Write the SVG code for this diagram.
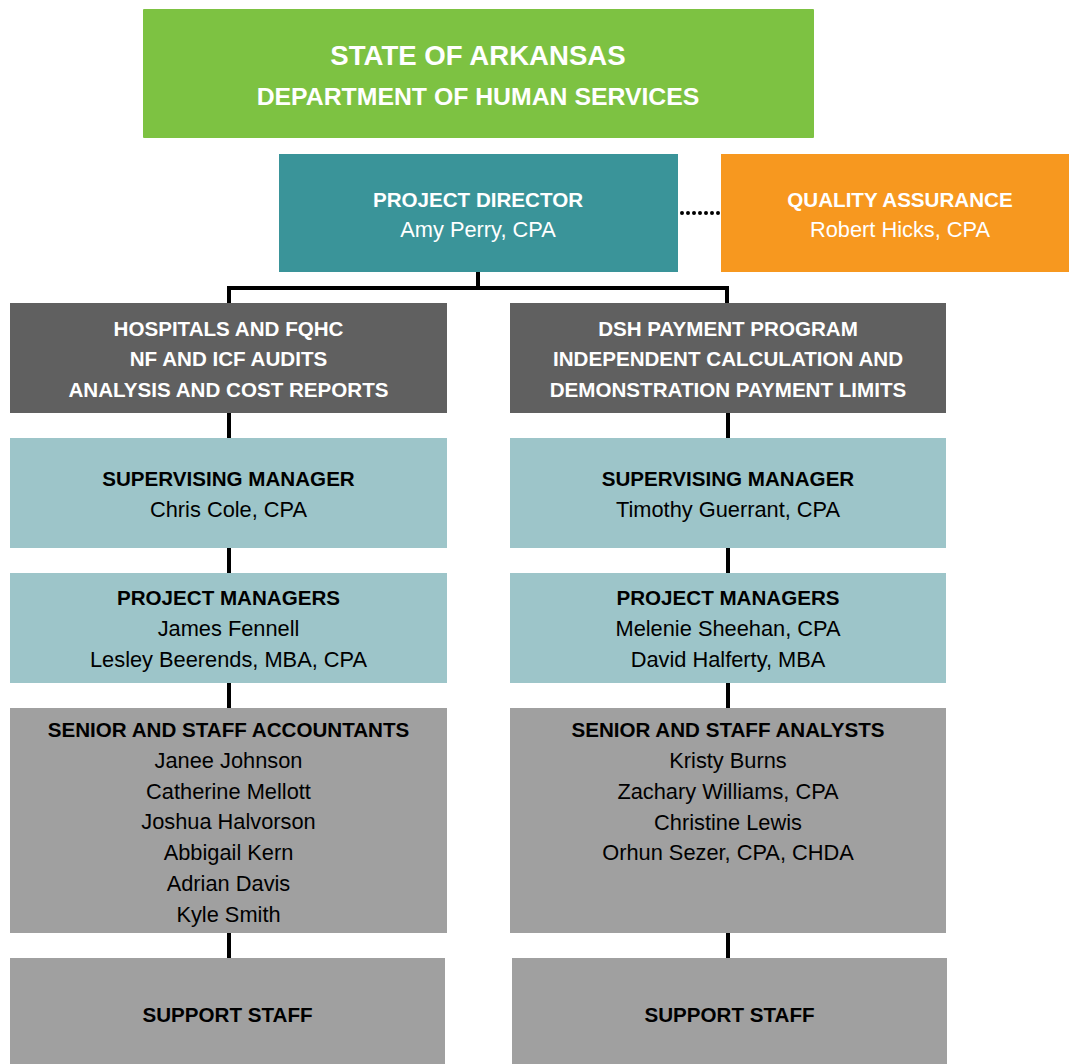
<svg xmlns="http://www.w3.org/2000/svg" width="1069" height="1064" viewBox="0 0 1069 1064">
<style>
text{font-family:"Liberation Sans",Arial,sans-serif;font-size:21.8px;text-anchor:middle}
.b{font-weight:bold;font-size:20.6px}
.w{fill:#ffffff}
.k{fill:#000000}
.ln{stroke:#000;stroke-width:4;fill:none}
.dot{stroke:#000;stroke-width:4;stroke-linecap:round;stroke-dasharray:0 6;fill:none}
</style>
<rect width="1069" height="1064" fill="#ffffff"/>
<g id="connectors">
<path class="ln" d="M478 272V288M229 286V303M727 286V303M227 288H729"/>
<path class="dot" d="M682 213H719"/>
<path class="ln" d="M229 413V438M229 548V573M229 683V708M229 933V958"/>
<path class="ln" d="M728 413V438M728 548V573M728 683V708M728 933V958"/>
</g>
<g id="state">
<rect x="143" y="9" width="671" height="129" fill="#7dc242" rx="1"/>
<text class="b w" x="478" y="65" style="font-size:27.6px">STATE OF ARKANSAS</text>
<text class="b w" x="478" y="105" style="font-size:24.8px">DEPARTMENT OF HUMAN SERVICES</text>
</g>
<g id="director">
<rect x="279" y="154" width="399" height="118" fill="#3a9499"/>
<text class="b w" x="478" y="207">PROJECT DIRECTOR</text>
<text class="w" x="478" y="237">Amy Perry, CPA</text>
</g>
<g id="qa">
<rect x="721" y="154" width="348" height="118" fill="#f7981f"/>
<text class="b w" x="900" y="207">QUALITY ASSURANCE</text>
<text class="w" x="900" y="237">Robert Hicks, CPA</text>
</g>
<g id="hospitals">
<rect x="10" y="303" width="437" height="110" fill="#606060"/>
<text class="b w" x="228.5" y="336">HOSPITALS AND FQHC</text>
<text class="b w" x="228.5" y="366">NF AND ICF AUDITS</text>
<text class="b w" x="228.5" y="397">ANALYSIS AND COST REPORTS</text>
</g>
<g id="dsh">
<rect x="510" y="303" width="436" height="110" fill="#606060"/>
<text class="b w" x="728" y="336">DSH PAYMENT PROGRAM</text>
<text class="b w" x="728" y="366">INDEPENDENT CALCULATION AND</text>
<text class="b w" x="728" y="397">DEMONSTRATION PAYMENT LIMITS</text>
</g>
<g id="sup-left">
<rect x="10" y="438" width="437" height="110" fill="#9dc5c9"/>
<text class="b k" x="228.5" y="486">SUPERVISING MANAGER</text>
<text class="k" x="228.5" y="517">Chris Cole, CPA</text>
</g>
<g id="sup-right">
<rect x="510" y="438" width="436" height="110" fill="#9dc5c9"/>
<text class="b k" x="728" y="486">SUPERVISING MANAGER</text>
<text class="k" x="728" y="517">Timothy Guerrant, CPA</text>
</g>
<g id="pm-left">
<rect x="10" y="573" width="437" height="110" fill="#9dc5c9"/>
<text class="b k" x="228.5" y="605">PROJECT MANAGERS</text>
<text class="k" x="228.5" y="636">James Fennell</text>
<text class="k" x="228.5" y="667">Lesley Beerends, MBA, CPA</text>
</g>
<g id="pm-right">
<rect x="510" y="573" width="436" height="110" fill="#9dc5c9"/>
<text class="b k" x="728" y="605">PROJECT MANAGERS</text>
<text class="k" x="728" y="636">Melenie Sheehan, CPA</text>
<text class="k" x="728" y="667">David Halferty, MBA</text>
</g>
<g id="staff-left">
<rect x="10" y="708" width="437" height="225" fill="#a0a0a0"/>
<text class="b k" x="228.5" y="737">SENIOR AND STAFF ACCOUNTANTS</text>
<text class="k" x="228.5" y="768">Janee Johnson</text>
<text class="k" x="228.5" y="799">Catherine Mellott</text>
<text class="k" x="228.5" y="829">Joshua Halvorson</text>
<text class="k" x="228.5" y="860">Abbigail Kern</text>
<text class="k" x="228.5" y="891">Adrian Davis</text>
<text class="k" x="228.5" y="922">Kyle Smith</text>
</g>
<g id="staff-right">
<rect x="510" y="708" width="436" height="225" fill="#a0a0a0"/>
<text class="b k" x="728" y="737">SENIOR AND STAFF ANALYSTS</text>
<text class="k" x="728" y="768">Kristy Burns</text>
<text class="k" x="728" y="799">Zachary Williams, CPA</text>
<text class="k" x="728" y="830">Christine Lewis</text>
<text class="k" x="728" y="860">Orhun Sezer, CPA, CHDA</text>
</g>
<g id="support-left">
<rect x="10" y="958" width="435" height="106" fill="#a0a0a0"/>
<text class="b k" x="227.5" y="1022">SUPPORT STAFF</text>
</g>
<g id="support-right">
<rect x="512" y="958" width="435" height="106" fill="#a0a0a0"/>
<text class="b k" x="729.5" y="1022">SUPPORT STAFF</text>
</g>
</svg>
